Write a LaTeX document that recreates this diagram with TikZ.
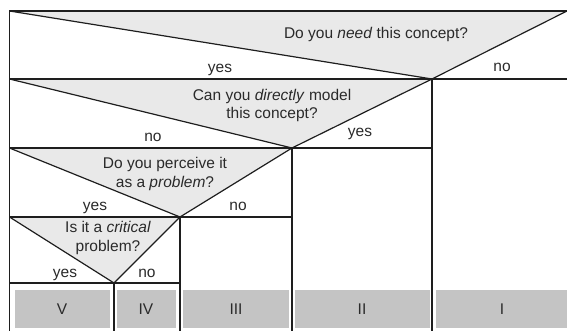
\documentclass[tikz,border=0pt]{standalone}
\usepackage{fontspec}
\setmainfont{Liberation Sans}
\definecolor{lineC}{HTML}{1E1E1E}
\definecolor{triC}{HTML}{E9E9E9}
\definecolor{boxC}{HTML}{C4C4C4}
\definecolor{txtC}{HTML}{2A2A2A}
\tikzset{
  frame/.style={draw=lineC, line width=1.8pt},
  rule/.style={draw=lineC, line width=1.6pt},
  diag/.style={draw=lineC, line width=1.2pt, line join=round},
  tri/.style={fill=triC},
  outbox/.style={fill=boxC},
  lbl/.style={anchor=base, inner sep=0pt, text=txtC, font=\fontsize{15.5}{18}\selectfont},
}
\begin{document}
\begin{tikzpicture}[x=1pt,y=-1pt]
\useasboundingbox (0,0) rectangle (567,331);
% key points
\coordinate (TL) at (9.5,11);
\coordinate (TR) at (567,11);
\coordinate (A1) at (432,79);
\coordinate (L1) at (9.5,79);
\coordinate (R1) at (567,79);
\coordinate (A2) at (292,148);
\coordinate (L2) at (9.5,148);
\coordinate (A3) at (180,217);
\coordinate (L3) at (9.5,217);
\coordinate (A4) at (114,283);
\coordinate (L4) at (9.5,283);
\coordinate (BL) at (9.5,331);
% triangles
\fill[tri] (TL) -- (TR) -- (A1) -- cycle;
\fill[tri] (L1) -- (A1) -- (A2) -- cycle;
\fill[tri] (L2) -- (A2) -- (A3) -- cycle;
\fill[tri] (L3) -- (A3) -- (A4) -- cycle;
% outcome boxes
\fill[outbox] (14.5,290) rectangle (110,327.5);
\fill[outbox] (116.5,290) rectangle (176,327.5);
\fill[outbox] (183,290) rectangle (289,327.5);
\fill[outbox] (295,290) rectangle (430,327.5);
\fill[outbox] (436,290) rectangle (567,327.5);
% diagonals
\draw[diag] (TL) -- (A1) -- (TR);
\draw[diag] (L1) -- (A2) -- (A1);
\draw[diag] (L2) -- (A3) -- (A2);
\draw[diag] (L3) -- (A4) -- (A3);
% rules
\draw[rule] (L1) -- (R1);
\draw[rule] (L2) -- (A1 |- L2);
\draw[rule] (L3) -- (A2 |- L3);
\draw[rule] (L4) -- (A3 |- L4);
\draw[rule] (A1) -- (A1 |- BL);
\draw[rule] (A2) -- (A2 |- BL);
\draw[rule] (A3) -- (A3 |- BL);
\draw[rule] (A4) -- (A4 |- BL);
\draw[frame] (BL) -- (TL) -- (TR);
% texts
\node[lbl] (q1) at (376,39) {Do you \textit{need} this concept?};
\node[lbl] (y1) at (220,73) {yes};
\node[lbl] (n1) at (502,72) {no};
\node[lbl] (q2a) at (272,101) {Can you \textit{directly} model};
\node[lbl] (q2b) at (272,119) {this concept?};
\node[lbl] (n2) at (153,142) {no};
\node[lbl] (y2) at (360,137) {yes};
\node[lbl] (q3a) at (165,168) {Do you perceive it};
\node[lbl] (q3b) at (165,187) {as a \textit{problem}?};
\node[lbl] (y3) at (95,211) {yes};
\node[lbl] (n3) at (238,211) {no};
\node[lbl] (q4a) at (108,232.5) {Is it a \textit{critical}};
\node[lbl] (q4b) at (108,251) {problem?};
\node[lbl] (y4) at (65,277) {yes};
\node[lbl] (n4) at (147,277) {no};
\node[lbl] (oV) at (62,314) {V};
\node[lbl] (oIV) at (146,314) {IV};
\node[lbl] (oIII) at (236,314) {III};
\node[lbl] (oII) at (362,314) {II};
\node[lbl] (oI) at (502,314) {I};
\end{tikzpicture}
\end{document}
